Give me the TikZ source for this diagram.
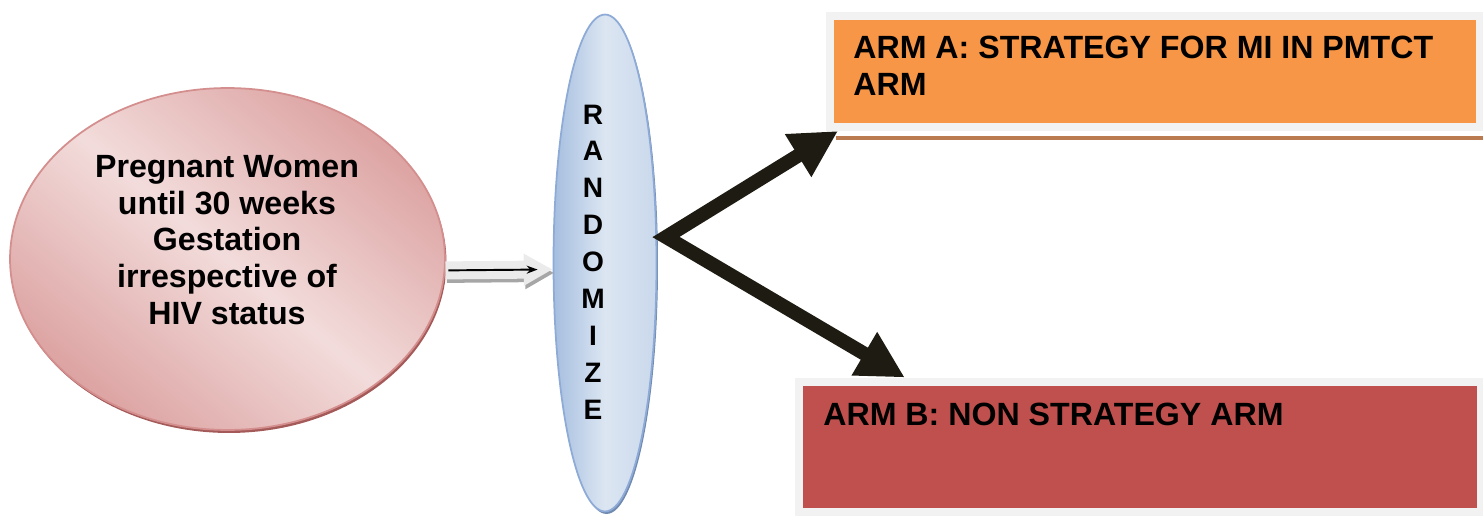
\documentclass[tikz,border=0pt]{standalone}
\usepackage{fontspec}
\setmainfont{Liberation Sans}
\usepackage{xcolor}
\usepackage{tikz}
\usetikzlibrary{shapes.geometric,arrows.meta,positioning,calc,shadows}

\definecolor{pinklight}{HTML}{F2DCDB}
\definecolor{pinkdark}{HTML}{DCA3A2}
\definecolor{pinkedge}{HTML}{D38E8D}
\definecolor{pinkshadow}{HTML}{A45A58}
\definecolor{bluelight}{HTML}{DCE6F2}
\definecolor{bluedark}{HTML}{A5BEDF}
\definecolor{blueedge}{HTML}{8EAAD6}
\definecolor{blueshadow}{HTML}{6F8AAE}
\definecolor{armorange}{HTML}{F79646}
\definecolor{armred}{HTML}{C0504D}
\definecolor{armframe}{HTML}{F2F2F2}
\definecolor{armline}{HTML}{B97B4F}
\definecolor{arrowdark}{HTML}{1E1C12}
\definecolor{fatgray}{HTML}{EBEBEB}

\begin{document}
\begin{tikzpicture}[x=0.02cm, y=-0.02cm,
  oval/.style={ellipse, line width=1pt, inner sep=0pt},
  popoval/.style={oval, draw=pinkedge, top color=pinkdark, bottom color=pinkdark, middle color=pinklight, shading angle=-40,
    drop shadow={shadow xshift=0.03cm, shadow yshift=-0.06cm, fill=pinkshadow, opacity=1},
    minimum width=8.7cm, minimum height=6.84cm},
  randoval/.style={oval, draw=blueedge, left color=bluedark, right color=bluedark!60, middle color=bluelight,
    drop shadow={shadow xshift=0.03cm, shadow yshift=-0.05cm, fill=blueshadow, opacity=1},
    minimum width=2.06cm, minimum height=9.94cm},
  armbox/.style={draw=armframe, line width=0.16cm, inner sep=0pt},
  txt/.style={font=\bfseries\fontsize{18.3}{21}\selectfont, inner sep=0pt},
  lettertxt/.style={font=\bfseries\fontsize{16}{21}\selectfont, inner sep=0pt, align=center},
  fatarr/.style={line width=0.36cm, draw=fatgray, -{Triangle[length=0.58cm, width=0.6cm]}},
  thinarr/.style={-{Stealth[length=2.2mm, width=1.6mm]}, line width=1.1pt, shorten <=0.06cm, shorten >=0.3cm},
  bigarr/.style={{Triangle[length=0.94cm, width=0.94cm]}-{Triangle[length=0.94cm, width=0.94cm]},
    line width=0.28cm, draw=arrowdark, line join=miter},
  armline/.style={draw=armline, line width=0.08cm}
]
\useasboundingbox (0,0) rectangle (1483,517);

\node[popoval] (women) at (227.5,259) {};
\node[txt, align=center] (womentxt) at (227,240) {Pregnant Women\\until 30 weeks\\Gestation\\irrespective of\\HIV status};

\node[randoval] (rand) at (605,263) {};
\node[lettertxt] (randtxt) at (593,262) {R\\A\\N\\D\\O\\M\\I\\Z\\E};

\node[armbox, fill=armorange, minimum width=13cm, minimum height=2.22cm] (armA) at (1155,71.5) {};
\node[txt, align=left, anchor=north west] (armAtxt) at (853,36) {ARM A: STRATEGY FOR MI IN PMTCT\\ARM};
\draw[armline] ($(armA.south west)+(10,7)$) -- ($(armA.south east)+(10,7)$);

\node[armbox, fill=armred, minimum width=13.64cm, minimum height=2.62cm] (armB) at (1139.75,447) {};
\node[txt, anchor=north west] (armBtxt) at (823,403) {ARM B: NON STRATEGY ARM};

\draw[fatarr, draw=black!35, transform canvas={xshift=0.03cm, yshift=-0.07cm}] (women.-3) -- (rand.187);
\draw[fatarr] (women.-3) -- (rand.187);
\draw[thinarr] (women.-3) -- (rand.187);

\coordinate (split) at (666,237);
\coordinate (tipA) at ($(armA.south west)+(12,0)$);
\coordinate (tipB) at ($(armB.north west)+(110,0)$);
\draw[bigarr] (tipA) -- (split) -- (tipB);

\end{tikzpicture}
\end{document}
